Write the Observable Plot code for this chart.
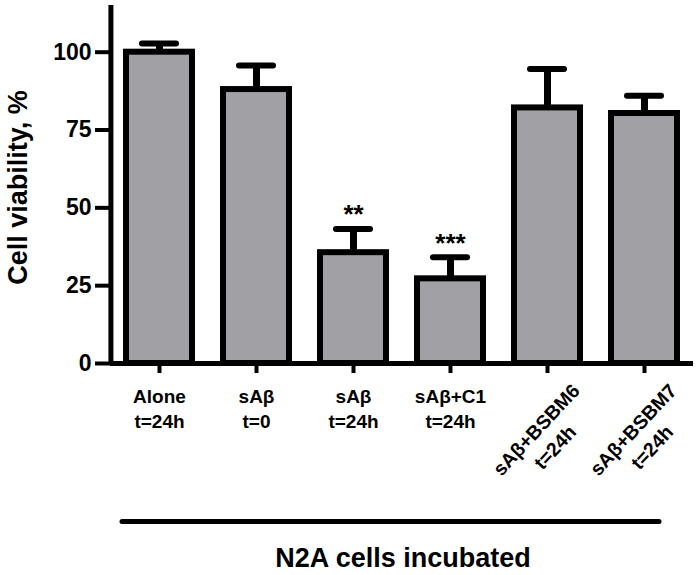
<!DOCTYPE html>
<html><head><meta charset="utf-8">
<script src="https://cdn.jsdelivr.net/npm/d3@7"></script>
<script src="https://cdn.jsdelivr.net/npm/@observablehq/plot@0.6"></script>
<style>body{margin:0;background:#fff} svg{display:block}</style>
</head><body><div id="chart"></div>
<script>
const categories = ["Alone\nt=24h", "sAβ\nt=0", "sAβ\nt=24h", "sAβ+C1\nt=24h", "sAβ+BSBM6\nt=24h", "sAβ+BSBM7\nt=24h"];
const viability = [100, 88, 35.6, 27.2, 82.1, 80.3];
const errorTop = [102.8, 95.7, 43.2, 34.1, 94.6, 86];
const significance = ["", "", "**", "***", "", ""];
const rotatedLabel = [false, false, false, false, true, true];
const yTicks = [0, 25, 50, 75, 100];
const yMax = 115;
const yLabel = "Cell viability, %";
const xCaption = "N2A cells incubated";

const rows = categories.map((c, i) => ({cat: c, value: viability[i], err: errorTop[i], sig: significance[i], rot: rotatedLabel[i]}));

const W = 699, H = 575, mL = 110, mR = 6, mT = 5, mB = 212;
const step = (W - mL - mR) / categories.length;

const chart = Plot.plot({
  width: W, height: H,
  marginLeft: mL, marginRight: mR, marginTop: mT, marginBottom: mB,
  style: {fontFamily: "'Liberation Sans', Arial, sans-serif", fontWeight: "bold", color: "black", background: "white"},
  x: {type: "band", domain: categories, paddingInner: 0.32, paddingOuter: 0.16, axis: null},
  y: {domain: [0, yMax], axis: null},
  marks: [
    Plot.axisY(yTicks, {tickSize: 15, tickPadding: 4, strokeWidth: 4, fontSize: 23, label: null}),
    Plot.axisX({tickSize: 10, strokeWidth: 4, tickFormat: () => "", label: null}),
    Plot.ruleX(rows, {x: "cat", y1: "value", y2: "err", strokeWidth: 7}),
    Plot.tickY(rows, {x: "cat", y: "err", strokeWidth: 6, strokeLinecap: "round", insetLeft: 16, insetRight: 16}),
    Plot.barY(rows, {x: "cat", y: "value", fill: "#a1a1a5", stroke: "black", strokeWidth: 6}),
    Plot.ruleY([0], {strokeWidth: 5}),
    Plot.ruleX([categories[0]], {y1: 0, y2: yMax, dx: -step / 2, strokeWidth: 5}),
    Plot.text(rows.filter(d => !d.rot), {x: "cat", y: 0, text: "cat", lineAnchor: "top", dy: 22, lineHeight: 1.32, fontSize: 19}),
    Plot.text(rows.filter(d => d.rot), {x: "cat", y: 0, text: "cat", rotate: -47, textAnchor: "middle", lineAnchor: "middle", dx: -3, dy: 74, lineHeight: 1.32, fontSize: 19.5}),
    Plot.text(rows.filter(d => d.sig), {x: "cat", y: "err", text: "sig", dy: -14, fontSize: 26}),
    Plot.text([yLabel], {frameAnchor: "left", rotate: -90, dx: -92, dy: 3, fontSize: 27, textAnchor: "middle", lineAnchor: "middle"}),
    Plot.ruleY([0], {dy: 158, insetLeft: 12, insetRight: 34, strokeWidth: 5, strokeLinecap: "round"}),
    Plot.text([xCaption], {frameAnchor: "bottom", dx: 1, dy: 195, fontSize: 27, lineAnchor: "middle"})
  ]
});
document.getElementById("chart").appendChild(chart);
</script>
</body></html>
